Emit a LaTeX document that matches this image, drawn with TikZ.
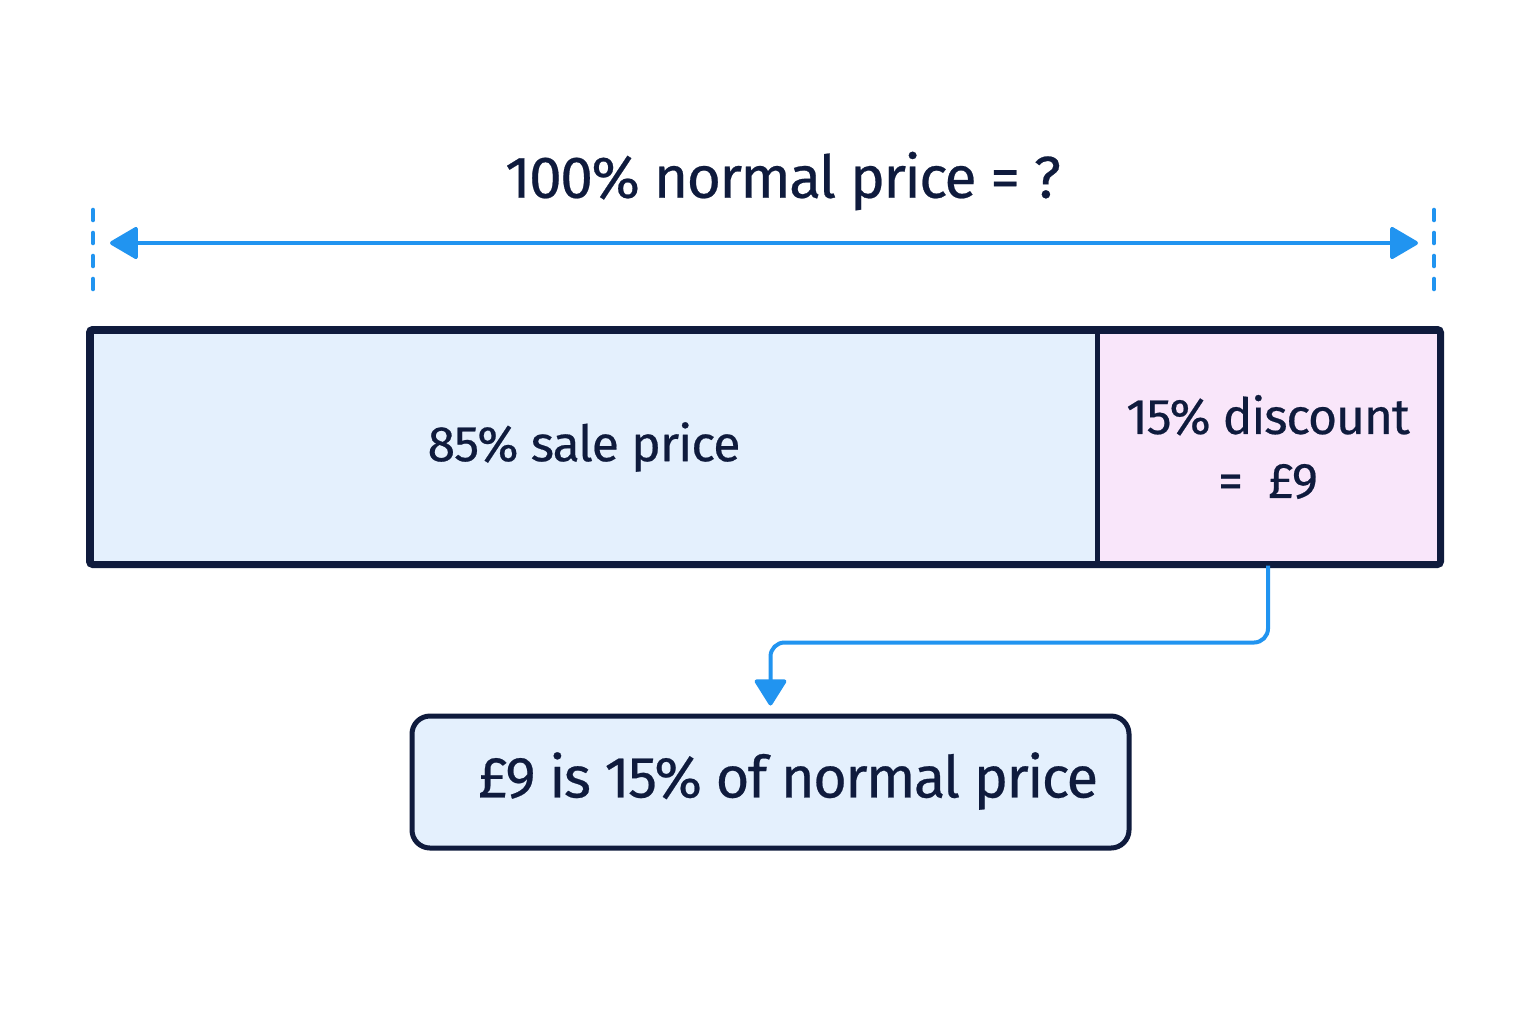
\documentclass[tikz,border=0pt]{standalone}
\usepackage{fontspec}
\setmainfont{Fira Sans}[FakeBold=0.4]
\usepackage{tikz}
\usetikzlibrary{arrows.meta}
\definecolor{ink}{HTML}{0F1B3D}
\definecolor{linkblue}{HTML}{2194F0}
\definecolor{saleblue}{HTML}{E4F0FD}
\definecolor{discpink}{HTML}{F9E6FA}
\newcommand{\tight}[1]{\addfontfeatures{LetterSpace=#1}}

\begin{document}
\begin{tikzpicture}[x=0.5pt,y=-0.5pt,
    part/.style={draw=ink,line width=2.5pt,minimum height=116pt,inner sep=0pt,text=ink},
    tip/.style={-{Triangle[width=17pt,length=14pt,round]}},
    guide/.style={linkblue,line width=2.3pt,dash pattern=on 5pt off 6.5pt,line cap=round}]
            \useasboundingbox[fill=white] (0,0) rectangle (1536,1024);

            \coordinate (lt) at (93,210);
            \coordinate (lb) at (93,296);
            \coordinate (rt) at (1434,210);
            \coordinate (rb) at (1434,296);
            \coordinate (la) at (110,243);
            \coordinate (ra) at (1418,243);

            \node[text=ink,font=\fontsize{29.5}{36}\selectfont\tight{-3}] (title) at (783,181) {100\% normal price = ?};

            \draw[guide](lt)--(lb);
            \draw[guide](rt)--(rb);
            \draw[linkblue,line width=2pt,{Triangle[width=17pt,length=15pt,round]}-{Triangle[width=17pt,length=15pt,round]}](la)--(ra);

            \node[part,fill=saleblue,minimum width=503pt,font=\fontsize{25}{30}\selectfont\tight{-2}] (sale) at (594,447) {85\% sale price\hspace*{10pt}};
            \node[part,fill=discpink,minimum width=171pt,align=center,font=\fontsize{25}{31.5}\selectfont\tight{-2.5}] (disc) at (1268,447) {\raisebox{-1.5pt}{15\% discount}\\[0pt]\raisebox{-2pt}{=\enspace\pounds9}};
            \draw[ink,line width=2.5pt,rounded corners=2pt](sale.north west) rectangle (disc.south east);

            \node[draw=ink,line width=2.5pt,fill=saleblue,rounded corners=9pt,minimum width=358.5pt,minimum height=66pt,text=ink] (result) at (770.5,782) {};
            \node[text=ink,font=\fontsize{29}{34}\selectfont\tight{-3}] (resulttext) at (788,781) {\pounds9 is 15\% of normal price};

            \draw[linkblue,line width=2pt,rounded corners=7pt,tip,shorten >=4pt](disc.south)--++(0,77)-|(result.north);
        \end{tikzpicture}
\end{document}
